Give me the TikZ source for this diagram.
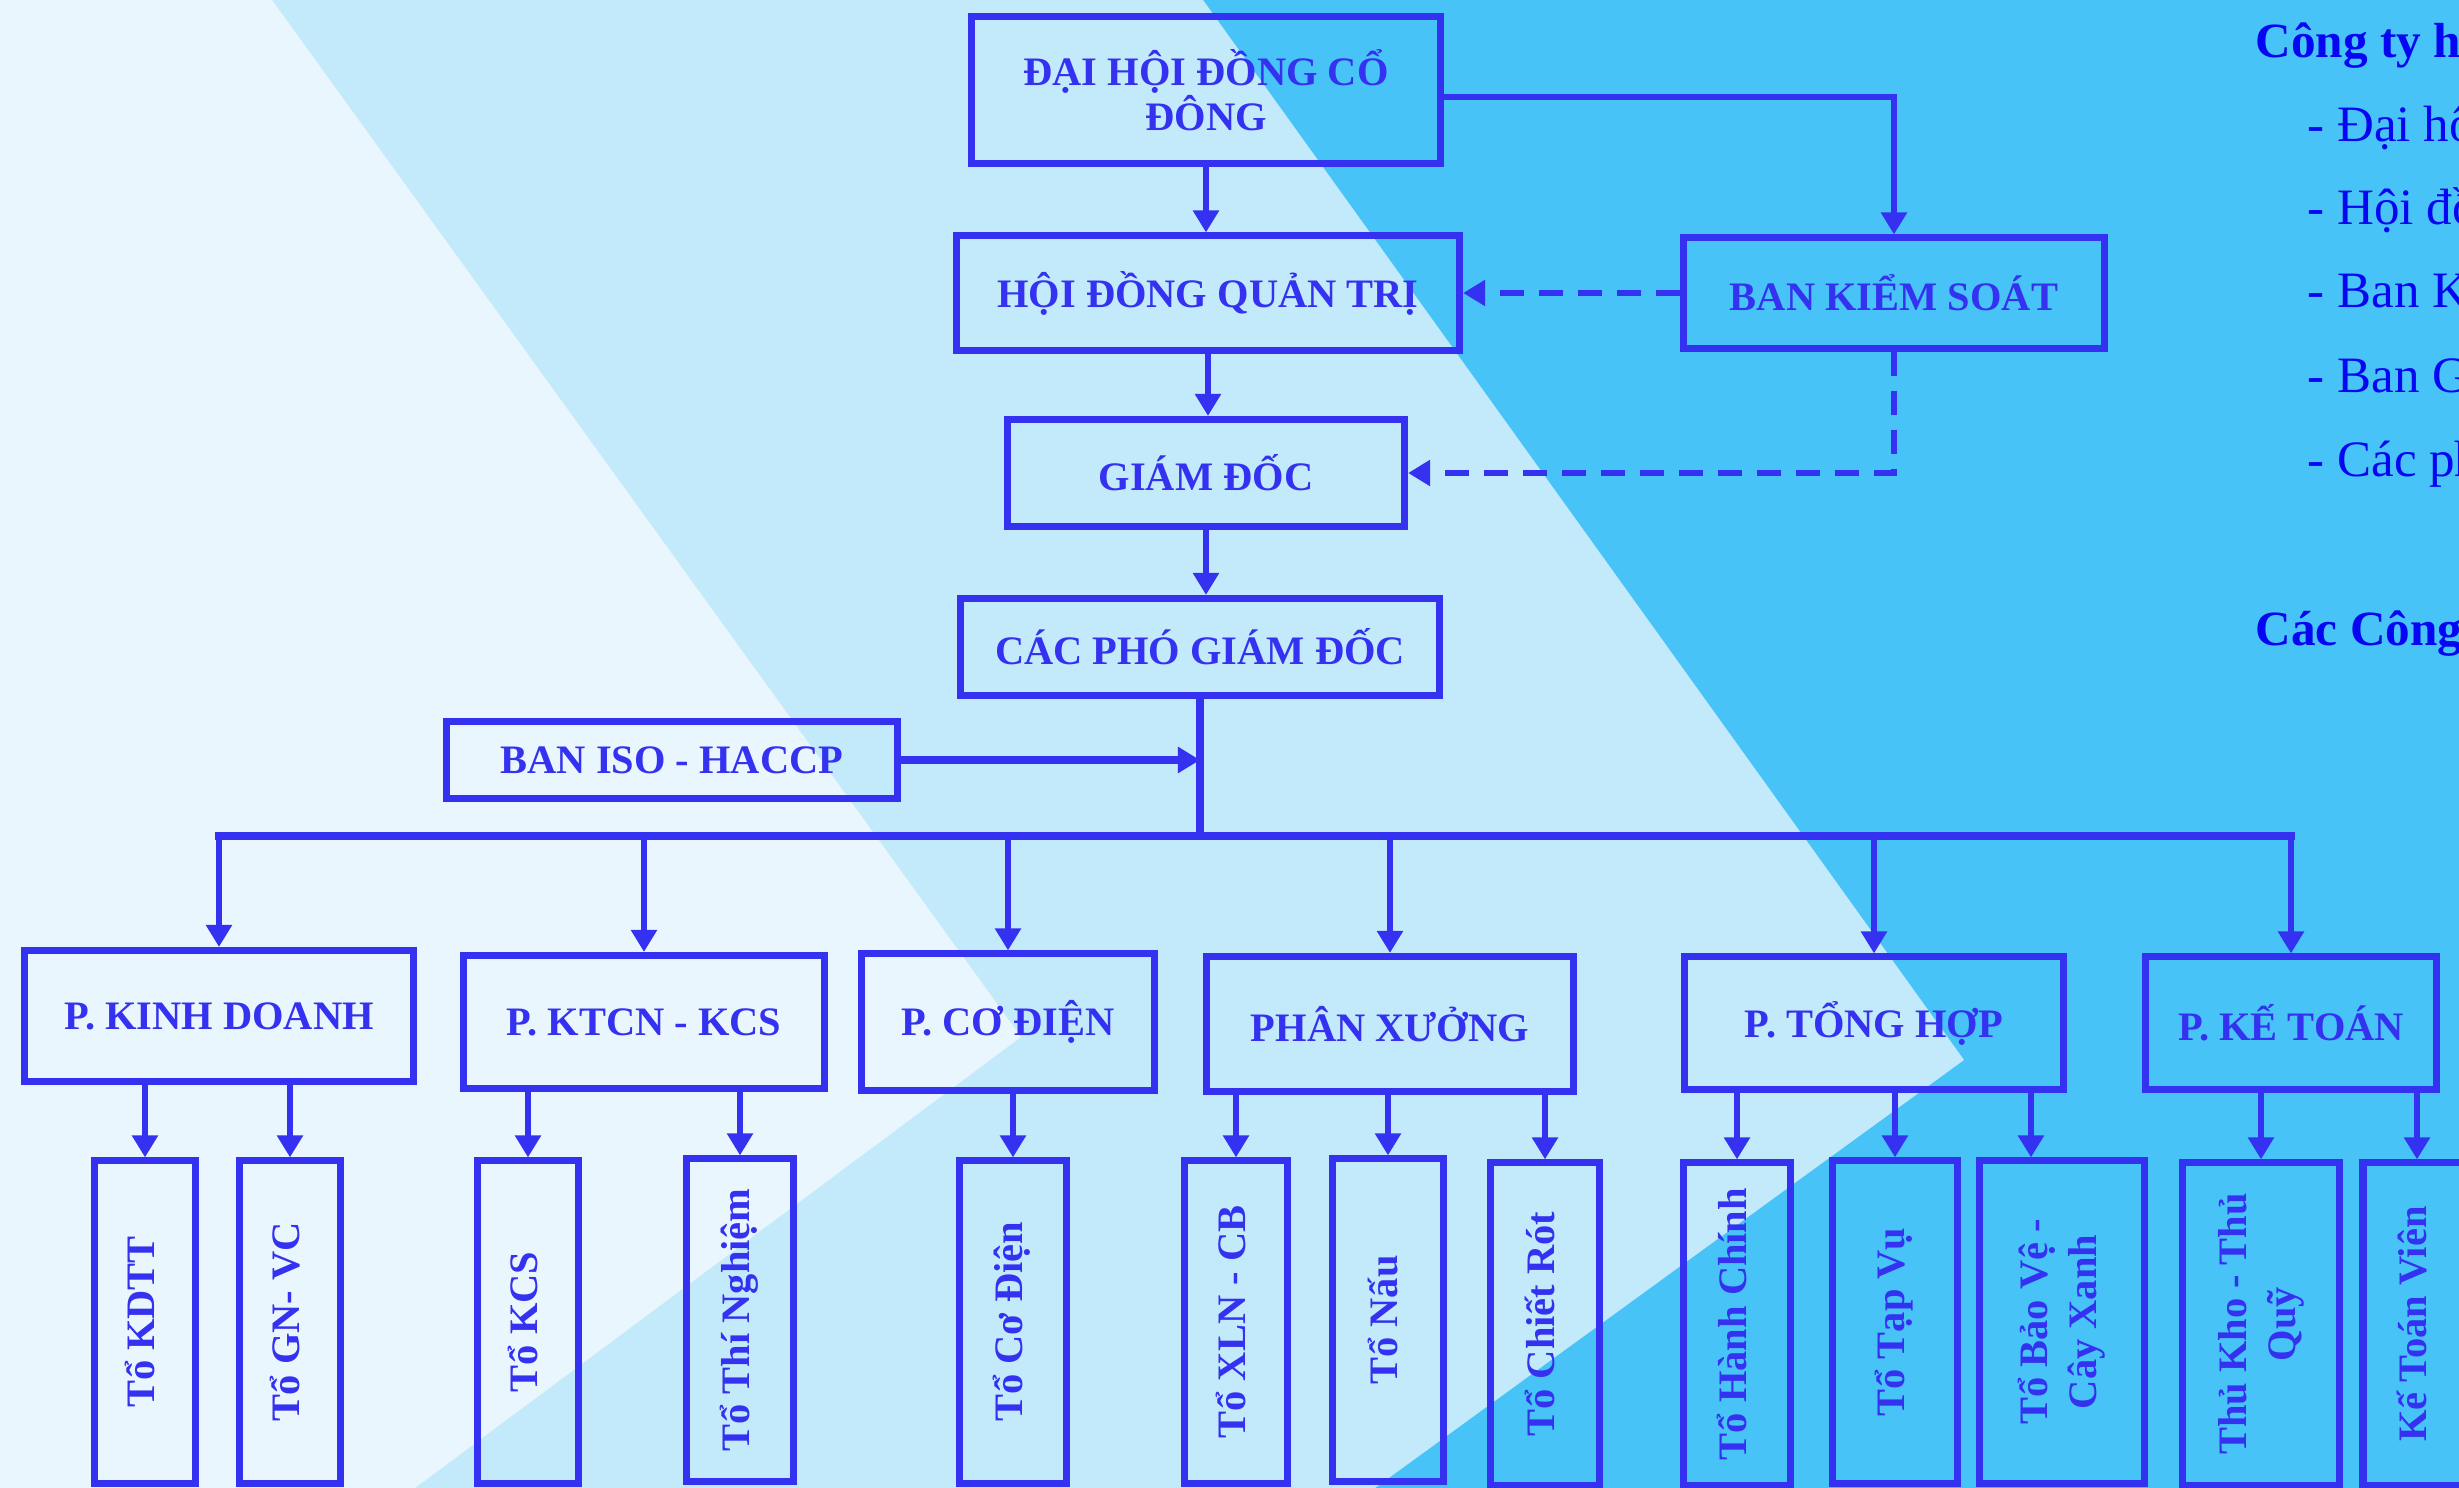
\documentclass[tikz,border=0pt]{standalone}
\usepackage{fontspec}
\setmainfont{Liberation Serif}
\usepackage{graphicx}
\usetikzlibrary{arrows.meta}
\definecolor{chart-blue}{HTML}{3432F0}
\definecolor{note-blue}{HTML}{0606F2}
\definecolor{bg-bright}{HTML}{48C3F8}
\definecolor{bg-mid}{HTML}{C2EAFB}
\definecolor{bg-pale}{HTML}{EAF6FD}
\newcommand{\vlabel}[1]{\rotatebox{90}{\begin{tabular}{@{}c@{}}#1\end{tabular}}}

\begin{document}
\begin{tikzpicture}[x=0.01cm, y=-0.01cm,
    orgbox/.style={draw=chart-blue, line width=2pt, text=chart-blue, align=center, inner sep=0pt,
      font=\bfseries\fontsize{11.5}{12.7}\selectfont},
    team/.style={orgbox, minimum height=3.22cm, font=\bfseries\fontsize{11.5}{14}\selectfont},
    link/.style={draw=chart-blue, line width=1.7pt, -{Triangle[length=0.22cm,width=0.25cm]}},
    watch/.style={link, dash pattern=on 0.24cm off 0.15cm},
    note/.style={anchor=base west, text=note-blue, inner sep=0pt, font=\fontsize{14.5}{16}\selectfont}]
    \useasboundingbox (0,0) rectangle (2459,1488);
    \clip (0,0) rectangle (2459,1488);
    % background bands
    \fill[bg-bright] (0,0) rectangle (2459,1488);
    \fill[bg-mid] (0,0) -- (1203,0) -- (1964,1060) -- (1375,1488) -- (0,1488) -- cycle;
    \fill[bg-pale] (0,0) -- (272,0) -- (1021,1037) -- (415,1488) -- (0,1488) -- cycle;

    % top of the chart
    \node[orgbox, minimum width=4.68cm, minimum height=1.47cm] (dhdcd) at (1206,90) {ĐẠI HỘI ĐỒNG CỔ\\ĐÔNG};
    \node[orgbox, minimum width=5.03cm, minimum height=1.14cm] (hdqt) at (1208,293) {HỘI ĐỒNG QUẢN TRỊ};
    \node[orgbox, minimum width=4.21cm, minimum height=1.10cm] (bks) at (1894,293) {BAN KIỂM SOÁT};
    \node[orgbox, minimum width=3.97cm, minimum height=1.07cm] (gd) at (1206,473) {GIÁM ĐỐC};
    \node[orgbox, minimum width=4.79cm, minimum height=0.97cm] (cpgd) at (1200,647) {CÁC PHÓ GIÁM ĐỐC};
    \node[orgbox, minimum width=4.51cm, minimum height=0.77cm] (iso) at (672,760) {BAN ISO - HACCP};

    % departments
    \node[orgbox, minimum width=3.88cm, minimum height=1.31cm] (pkd) at (219,1016) {P. KINH DOANH};
    \node[orgbox, minimum width=3.60cm, minimum height=1.33cm] (pktcn) at (644,1022) {P. KTCN - KCS};
    \node[orgbox, minimum width=2.93cm, minimum height=1.36cm] (pcd) at (1008,1022) {P. CƠ ĐIỆN};
    \node[orgbox, minimum width=3.67cm, minimum height=1.35cm] (px) at (1390,1024) {PHÂN XƯỞNG};
    \node[orgbox, minimum width=3.79cm, minimum height=1.32cm] (pth) at (1874,1023) {P. TỔNG HỢP};
    \node[orgbox, minimum width=2.91cm, minimum height=1.32cm] (pkt) at (2291,1023) {P. KẾ TOÁN};

    % teams
    \node[team, minimum width=1.00cm] (kdtt) at (145,1322) {\vlabel{Tổ KDTT}};
    \node[team, minimum width=1.01cm] (gnvc) at (290,1322) {\vlabel{Tổ GN- VC}};
    \node[team, minimum width=1.00cm] (kcs) at (528,1322) {\vlabel{Tổ KCS}};
    \node[team, minimum width=1.06cm] (tn) at (740,1320) {\vlabel{Tổ Thí Nghiệm}};
    \node[team, minimum width=1.06cm] (tcd) at (1013,1322) {\vlabel{Tổ Cơ Điện}};
    \node[team, minimum width=1.02cm] (xln) at (1236,1322) {\vlabel{Tổ XLN - CB}};
    \node[team, minimum width=1.11cm] (nau) at (1388,1320) {\vlabel{Tổ Nấu}};
    \node[team, minimum width=1.08cm] (cr) at (1545,1324) {\vlabel{Tổ Chiết Rót}};
    \node[team, minimum width=1.07cm] (hc) at (1737,1324) {\vlabel{Tổ Hành Chính}};
    \node[team, minimum width=1.24cm] (tv) at (1895,1322) {\vlabel{Tổ Tạp Vụ}};
    \node[team, minimum width=1.65cm] (bvcx) at (2062,1322) {\vlabel{Tổ Bảo Vệ -\\Cây Xanh}};
    \node[team, minimum width=1.56cm] (tktq) at (2261,1324) {\vlabel{Thủ Kho - Thủ\\Quỹ}};
    \node[team, minimum width=1.08cm] (ktv) at (2417,1324) {\vlabel{Kế Toán Viên}};

    % links between the boards
    \draw[link] (dhdcd.south) -- (dhdcd.south |- hdqt.north);
    \draw[link] ([yshift=-0.07cm]dhdcd.east) -| (bks.north);
    \draw[watch] (bks.west) -- (hdqt.east);
    \draw[watch] (bks.south) |- (gd.east);
    \draw[link] (hdqt.south) -- (hdqt.south |- gd.north);
    \draw[link] (gd.south) -- (gd.south |- cpgd.north);

    % bus to departments
    \coordinate (bus) at (1200,836);
    \draw[chart-blue, line width=2pt] (cpgd.south) -- (bus);
    \draw[chart-blue, line width=2pt, line cap=rect] (pkd.north |- bus) -- (pkt.north |- bus);
    \draw[link, line width=2pt] (iso.east) -- (iso.east -| bus);
    \draw[link] (pkd.north |- bus) -- (pkd.north);
    \draw[link] (pktcn.north |- bus) -- (pktcn.north);
    \draw[link] (pcd.north |- bus) -- (pcd.north);
    \draw[link] (px.north |- bus) -- (px.north);
    \draw[link] (pth.north |- bus) -- (pth.north);
    \draw[link] (pkt.north |- bus) -- (pkt.north);

    % departments to teams
    \draw[link] (pkd.south -| kdtt.north) -- (kdtt.north);
    \draw[link] (pkd.south -| gnvc.north) -- (gnvc.north);
    \draw[link] (pktcn.south -| kcs.north) -- (kcs.north);
    \draw[link] (pktcn.south -| tn.north) -- (tn.north);
    \draw[link] (pcd.south -| tcd.north) -- (tcd.north);
    \draw[link] (px.south -| xln.north) -- (xln.north);
    \draw[link] (px.south -| nau.north) -- (nau.north);
    \draw[link] (px.south -| cr.north) -- (cr.north);
    \draw[link] (pth.south -| hc.north) -- (hc.north);
    \draw[link] (pth.south -| tv.north) -- (tv.north);
    \draw[link] ([xshift=-0.31cm]pth.south -| bvcx.north) -- ([xshift=-0.31cm]bvcx.north);
    \draw[link] (pkt.south -| tktq.north) -- (tktq.north);
    \draw[link] (pkt.south -| ktv.north) -- (ktv.north);

    % side notes, cut at the edge
    \node[note, font=\bfseries\fontsize{14}{16}\selectfont] (head) at (2255,58) {Công ty h};
    \node[note] (itema) at (2307,142) {- Đại hộ};
    \node[note] (itemb) at (2307,225) {- Hội đồ};
    \node[note] (itemc) at (2307,308) {- Ban K};
    \node[note] (itemd) at (2307,393) {- Ban G};
    \node[note] (iteme) at (2307,477) {- Các ph};
    \node[note, font=\bfseries\fontsize{14}{16}\selectfont] (subs) at (2255,645) {Các Công};
\end{tikzpicture}
\end{document}
